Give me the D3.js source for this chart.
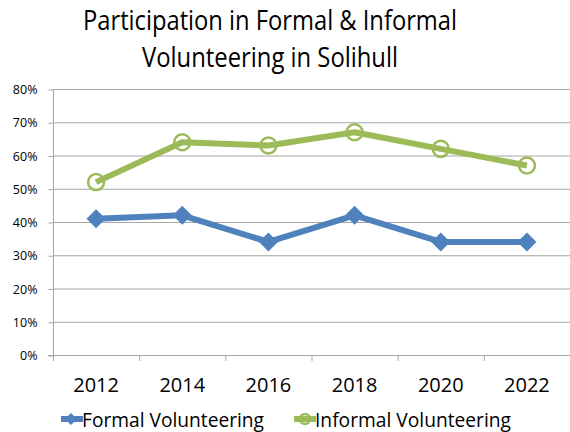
<!DOCTYPE html>
<html>
<head>
<meta charset="utf-8">
<script src="https://cdn.jsdelivr.net/npm/d3@7"></script>
<style>
  body { margin: 0; background: #fff; }
  svg { display: block; font-family: "Open Sans", sans-serif; }
</style>
</head>
<body>
<svg id="chart" width="570" height="432"></svg>
<script>
// data
var years = ["2012", "2014", "2016", "2018", "2020", "2022"];
var formal = [0.41, 0.42, 0.34, 0.42, 0.34, 0.34];
var informal = [0.52, 0.64, 0.63, 0.67, 0.62, 0.57];
var yTicks = [0, 0.1, 0.2, 0.3, 0.4, 0.5, 0.6, 0.7, 0.8];
var titleLines = ["Participation in Formal & Informal", "Volunteering in Solihull"];
var seriesNames = ["Formal Volunteering", "Informal Volunteering"];

var blue = "#4f81bd", green = "#9bbb59", grid = "#a6a6a6";

var svg = d3.select("#chart");
var margin = {top: 89, left: 53, right: 0, bottom: 77};
var width = 570, height = 432;

var x = d3.scaleBand().domain(years).range([margin.left, width - margin.right]);
var y = d3.scaleLinear().domain([0, 0.8]).range([height - margin.bottom, margin.top]);

// title
svg.append("g").selectAll("text")
  .data(titleLines)
  .enter().append("text")
  .attr("x", 270)
  .attr("y", function(d, i) { return 30 + i * 37; })
  .attr("text-anchor", "middle")
  .attr("font-size", 27)
  .attr("fill", "#000")
  .attr("textLength", function(d, i) { return i == 0 ? 374 : 256; })
  .attr("lengthAdjust", "spacingAndGlyphs")
  .text(function(d) { return d; });

// gridlines
svg.append("g")
  .selectAll("line")
  .data(yTicks)
  .enter().append("line")
  .attr("x1", margin.left).attr("x2", width)
  .attr("y1", function(d) { return y(d) + 0.5; })
  .attr("y2", function(d) { return y(d) + 0.5; })
  .attr("stroke", grid).attr("stroke-width", 1);

// y axis
var yAxis = svg.append("g")
  .attr("transform", "translate(" + (margin.left + 0.5) + ",0.5)")
  .call(d3.axisLeft(y).tickValues(yTicks).tickFormat(d3.format(".0%")).tickSize(5).tickPadding(11));
yAxis.select(".domain").attr("stroke", grid).attr("d", "M0," + y(0) + "V" + y(0.8));
yAxis.selectAll(".tick line").attr("stroke", grid);
yAxis.selectAll("text").attr("font-size", 12.5).attr("fill", "#000").attr("font-family", "Open Sans, sans-serif");

// x axis
var xAxis = svg.append("g")
  .attr("transform", "translate(0," + (y(0) + 0.5) + ")")
  .call(d3.axisBottom(x).tickSize(0).tickPadding(22));
xAxis.select(".domain").attr("stroke", grid).attr("d", "M" + (margin.left - 5) + ",0H" + width);
xAxis.selectAll("text").attr("font-size", 20).attr("fill", "#000").attr("font-family", "Open Sans, sans-serif");

// category separator ticks
svg.append("g")
  .selectAll("line")
  .data(years.concat(["end"]))
  .enter().append("line")
  .attr("x1", function(d, i) { return margin.left + i * x.bandwidth() + 0.5; })
  .attr("x2", function(d, i) { return margin.left + i * x.bandwidth() + 0.5; })
  .attr("y1", y(0)).attr("y2", y(0) + 6)
  .attr("stroke", grid);

function cx(d, i) { return x(years[i]) + x.bandwidth() / 2; }

var line = d3.line()
  .x(cx)
  .y(function(d) { return y(d); });

// informal series
svg.append("path")
  .datum(informal)
  .attr("d", line)
  .attr("fill", "none")
  .attr("stroke", green)
  .attr("stroke-width", 6)
  .attr("stroke-linejoin", "round");
svg.append("g").selectAll("circle")
  .data(informal)
  .enter().append("circle")
  .attr("cx", cx)
  .attr("cy", function(d) { return y(d); })
  .attr("r", 8)
  .attr("fill", "none")
  .attr("stroke", green)
  .attr("stroke-width", 2.5);

// formal series
svg.append("path")
  .datum(formal)
  .attr("d", line)
  .attr("fill", "none")
  .attr("stroke", blue)
  .attr("stroke-width", 6)
  .attr("stroke-linejoin", "round");
var diamond = d3.symbol().type(d3.symbolDiamond2).size(230);
svg.append("g").selectAll("path")
  .data(formal)
  .enter().append("path")
  .attr("d", diamond)
  .attr("transform", function(d, i) { return "translate(" + cx(d, i) + "," + y(d) + ")"; })
  .attr("fill", blue);

// legend
var legend = svg.append("g");
var lx = [61, 294];
seriesNames.forEach(function(name, i) {
  var g = legend.append("g").attr("transform", "translate(" + lx[i] + ",419)");
  g.append("line").attr("x1", 0).attr("x2", 22).attr("y1", 0).attr("y2", 0)
    .attr("stroke", i == 0 ? blue : green).attr("stroke-width", 6);
  if (i == 0) {
    g.append("path").attr("d", d3.symbol().type(d3.symbolDiamond2).size(90))
      .attr("transform", "translate(10,0)").attr("fill", blue);
  } else {
    g.append("circle").attr("cx", 11).attr("cy", 0).attr("r", 5)
      .attr("fill", "none").attr("stroke", green).attr("stroke-width", 2.5);
  }
  g.append("text")
    .attr("x", 21)
    .attr("y", 8)
    .attr("font-size", 20)
    .attr("fill", "#000")
    .attr("textLength", i == 0 ? 182 : 196)
    .attr("lengthAdjust", "spacingAndGlyphs")
    .text(name);
});
</script>
</body>
</html>
